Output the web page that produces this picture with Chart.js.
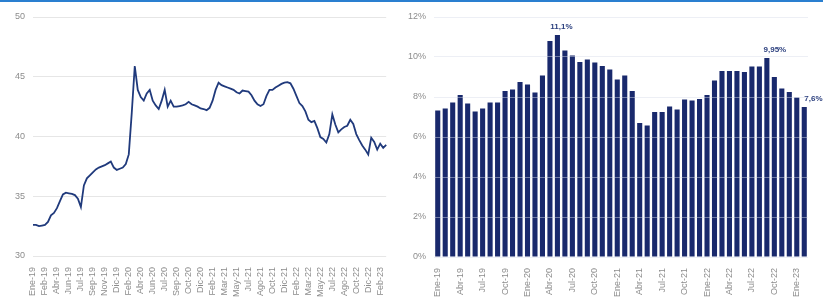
<!DOCTYPE html>
<html>
<head>
<meta charset="utf-8">
<script src="https://cdn.jsdelivr.net/npm/chart.js@4.4.0/dist/chart.umd.min.js"></script>
<style>
  html, body { margin: 0; padding: 0; background: #fff; }
  #lienzo { position: relative; width: 823px; height: 302px; overflow: hidden; }
  #franja { position: absolute; left: 0; top: 0; width: 823px; height: 2px; background: #2a7fd0; }
  #graficoLinea { position: absolute; left: 0; top: 0; }
  #graficoBarras { position: absolute; left: 400px; top: 0; }
</style>
</head>
<body>
<div id="lienzo">
  <canvas id="graficoLinea" width="400" height="302"></canvas>
  <canvas id="graficoBarras" width="423" height="302"></canvas>
  <div id="franja"></div>
</div>
<script>
// Etiquetas del eje X del gráfico de línea (una cada 4 observaciones)
const etiquetasLinea = ['Ene-19', 'Feb-19', 'Abr-19', 'Jun-19', 'Jul-19', 'Sep-19', 'Nov-19', 'Dic-19',
  'Feb-20', 'Abr-20', 'Jun-20', 'Jul-20', 'Sep-20', 'Oct-20', 'Dic-20', 'Feb-21', 'Mar-21', 'May-21',
  'Jul-21', 'Ago-21', 'Oct-21', 'Dic-21', 'Feb-22', 'Mar-22', 'May-22', 'Jul-22', 'Ago-22', 'Oct-22',
  'Dic-22', 'Feb-23'];
const pasoEtiquetas = 4;

// Serie de la línea
const valoresLinea = [
  32.6, 32.6, 32.5, 32.55, 32.6, 32.85, 33.4, 33.6, 34.0, 34.6,
  35.15, 35.3, 35.25, 35.2, 35.1, 34.8, 34.1, 35.9, 36.5, 36.75,
  37.0, 37.25, 37.4, 37.5, 37.6, 37.75, 37.9, 37.4, 37.2, 37.3,
  37.4, 37.7, 38.5, 42.0, 45.9, 43.9, 43.3, 43.0, 43.6, 43.9,
  43.0, 42.6, 42.3, 43.0, 43.9, 42.5, 43.0, 42.5, 42.5, 42.55,
  42.6, 42.7, 42.9, 42.7, 42.6, 42.5, 42.35, 42.3, 42.2, 42.4,
  43.0, 43.9, 44.5, 44.3, 44.2, 44.1, 44.0, 43.9, 43.7, 43.6,
  43.85, 43.8, 43.75, 43.45, 43.0, 42.7, 42.55, 42.7, 43.4, 43.9,
  43.9, 44.1, 44.25, 44.4, 44.5, 44.55, 44.45, 44.0, 43.4, 42.8,
  42.55, 42.1, 41.4, 41.2, 41.3, 40.7, 39.95, 39.8, 39.5, 40.2,
  41.85, 41.0, 40.35, 40.6, 40.8, 40.9, 41.4, 41.05, 40.2, 39.7,
  39.25, 38.9, 38.5, 39.9, 39.55, 38.9, 39.4, 39.05, 39.3
];

// Meses del gráfico de barras
const mesesBarras = [
  'Ene-19', 'Feb-19', 'Mar-19', 'Abr-19', 'May-19', 'Jun-19', 'Jul-19', 'Ago-19', 'Sep-19', 'Oct-19', 'Nov-19', 'Dic-19',
  'Ene-20', 'Feb-20', 'Mar-20', 'Abr-20', 'May-20', 'Jun-20', 'Jul-20', 'Ago-20', 'Sep-20', 'Oct-20', 'Nov-20', 'Dic-20',
  'Ene-21', 'Feb-21', 'Mar-21', 'Abr-21', 'May-21', 'Jun-21', 'Jul-21', 'Ago-21', 'Sep-21', 'Oct-21', 'Nov-21', 'Dic-21',
  'Ene-22', 'Feb-22', 'Mar-22', 'Abr-22', 'May-22', 'Jun-22', 'Jul-22', 'Ago-22', 'Sep-22', 'Oct-22', 'Nov-22', 'Dic-22',
  'Ene-23', 'Feb-23'
];

// Valores de las barras (%)
const valoresBarras = [
  7.33, 7.43, 7.72, 8.1, 7.67, 7.27, 7.43, 7.72, 7.72, 8.3, 8.37, 8.75,
  8.63, 8.23, 9.08, 10.8, 11.1, 10.33, 10.08, 9.75, 9.87, 9.72, 9.55, 9.37,
  8.87, 9.07, 8.3, 6.7, 6.58, 7.25, 7.25, 7.53, 7.37, 7.87, 7.83, 7.9,
  8.1, 8.83, 9.3, 9.3, 9.3, 9.25, 9.53, 9.53, 9.95, 9.0, 8.42, 8.25,
  7.97, 7.5
];

// Rótulos destacados sobre algunas barras
const rotulosBarras = [
  { indice: 16, texto: '11,1%', alinear: 'center', dx: 4 },
  { indice: 44, texto: '9,95%', alinear: 'center', dx: 8 },
  { indice: 49, texto: '7,6%', alinear: 'left', dx: 0 }
];

const colorSerie = '#19296c';
const colorTexto = '#8c8c8c';
const colorRejilla = '#e6e6e6';
const fuenteX = { family: 'Liberation Sans', size: 9 };
const fuenteY = { family: 'Liberation Sans', size: 9 };

// Gráfico de línea
const etiquetasEjeLinea = valoresLinea.map((v, i) =>
  i % pasoEtiquetas === 0 && etiquetasLinea[i / pasoEtiquetas] ? etiquetasLinea[i / pasoEtiquetas] : '');

new Chart(document.getElementById('graficoLinea'), {
  type: 'line',
  data: {
    labels: etiquetasEjeLinea,
    datasets: [{
      data: valoresLinea,
      borderColor: '#203a7c',
      borderWidth: 1.8,
      pointRadius: 0,
      tension: 0
    }]
  },
  options: {
    responsive: false,
    animation: false,
    layout: { padding: { top: 17, right: 3, left: 0, bottom: 0 } },
    plugins: { legend: { display: false }, tooltip: { enabled: false } },
    scales: {
      x: {
        offset: false,
        grid: { display: false },
        border: { display: false },
        ticks: {
          autoSkip: false, maxRotation: 90, minRotation: 90,
          color: colorTexto, font: fuenteX, padding: 3
        },
        afterFit: (s) => { s.height = 46; }
      },
      y: {
        min: 30, max: 50,
        ticks: { stepSize: 5, color: colorTexto, font: fuenteY, padding: 8 },
        grid: { color: colorRejilla, drawTicks: false },
        border: { display: false },
        afterFit: (s) => { s.width = 33; }
      }
    }
  }
});

// Plugin para escribir los rótulos sobre las barras
const pluginRotulos = {
  id: 'rotulos',
  afterDatasetsDraw(chart) {
    const ctx = chart.ctx;
    const meta = chart.getDatasetMeta(0);
    ctx.save();
    ctx.font = 'bold 8px "Liberation Sans"';
    ctx.fillStyle = '#2b3f7e';
    ctx.textBaseline = 'bottom';
    rotulosBarras.forEach(r => {
      const barra = meta.data[r.indice];
      ctx.textAlign = r.alinear;
      ctx.fillText(r.texto, barra.x + r.dx, barra.y - 4);
    });
    ctx.restore();
  }
};

// Gráfico de barras
new Chart(document.getElementById('graficoBarras'), {
  type: 'bar',
  data: {
    labels: mesesBarras,
    datasets: [{
      data: valoresBarras,
      backgroundColor: colorSerie,
      barPercentage: 0.68,
      categoryPercentage: 1
    }]
  },
  options: {
    responsive: false,
    animation: false,
    layout: { padding: { top: 17, right: 15, left: 0, bottom: 0 } },
    plugins: { legend: { display: false }, tooltip: { enabled: false } },
    scales: {
      x: {
        grid: { display: false },
        border: { display: false },
        ticks: {
          autoSkip: false, maxRotation: 90, minRotation: 90,
          color: colorTexto, font: fuenteX, padding: 3,
          callback: function (valor, i) { return i % 3 === 0 ? this.getLabelForValue(valor) : ''; }
        },
        afterFit: (s) => { s.height = 45; }
      },
      y: {
        min: 0, max: 12,
        ticks: {
          stepSize: 2, color: colorTexto, font: fuenteY, padding: 8,
          callback: (v) => v + '%'
        },
        grid: { color: 'rgba(215,220,232,0.45)', drawTicks: false, z: 1 },
        border: { display: false },
        afterFit: (s) => { s.width = 34; }
      }
    }
  },
  plugins: [pluginRotulos]
});
</script>
</body>
</html>
